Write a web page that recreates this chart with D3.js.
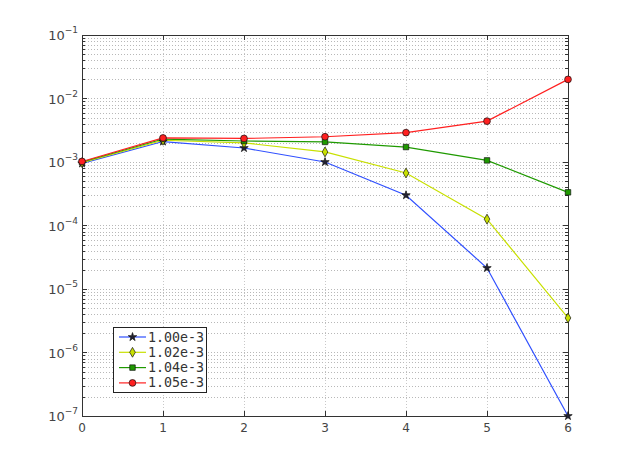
<!DOCTYPE html>
<html><head><meta charset="utf-8">
<script src="https://cdn.jsdelivr.net/npm/d3@7"></script>
<style>body{margin:0;background:#fff}svg{display:block}</style>
</head><body>
<svg id="c" width="627" height="469"></svg>
<script>
const xValues = [0,1,2,3,4,5,6];
const seriesNames = ["1.00e-3","1.02e-3","1.04e-3","1.05e-3"];
const s100 = [9.5e-4, 2.1e-3, 1.66e-3, 1.0e-3, 3.0e-4, 2.14e-5, 1.0e-7];
const s102 = [9.8e-4, 2.2e-3, 2.0e-3, 1.44e-3, 6.7e-4, 1.26e-4, 3.5e-6];
const s104 = [1.0e-3, 2.3e-3, 2.14e-3, 2.07e-3, 1.72e-3, 1.06e-3, 3.33e-4];
const s105 = [1.02e-3, 2.39e-3, 2.35e-3, 2.5e-3, 2.9e-3, 4.4e-3, 2.0e-2];
const colors = ["#3050ff","#c8e000","#1f9a00","#ff2020"];
const markers = ["star","diamond","square","circle"];
const xTicks = [0,1,2,3,4,5,6];
const yExps = [-7,-6,-5,-4,-3,-2,-1];

const svg = d3.select("#c");
const L=82, R=568, T=35, B=416;
const x = d3.scaleLinear().domain([0,6]).range([L,R]);
const y = d3.scaleLog().domain([1e-7,1e-1]).range([B,T]);

// grid
const g = svg.append("g");
const minor = [];
for (let e=-7;e<-1;e++) for (let m=1;m<10;m++) minor.push(m*Math.pow(10,e));
minor.push(1e-1);
g.selectAll(".hg").data(minor).enter().append("line")
 .attr("x1",L).attr("x2",R).attr("y1",d=>Math.round(y(d))+0.5).attr("y2",d=>Math.round(y(d))+0.5)
 .attr("stroke","#b8b8b8").attr("stroke-dasharray","1,2").attr("stroke-width",1);
g.selectAll(".vg").data(xTicks).enter().append("line")
 .attr("y1",T).attr("y2",B).attr("x1",d=>Math.round(x(d))+0.5).attr("x2",d=>Math.round(x(d))+0.5)
 .attr("stroke","#c8c8c8").attr("stroke-dasharray","1,2").attr("stroke-width",1);

// ticks
const tk = svg.append("g").attr("stroke","#333");
minor.forEach(v=>{
  const isMaj = Math.abs(Math.log10(v)-Math.round(Math.log10(v)))<1e-9;
  const len = isMaj?5:3; const yy=Math.round(y(v))+0.5;
  tk.append("line").attr("x1",L).attr("x2",L+len).attr("y1",yy).attr("y2",yy);
  tk.append("line").attr("x1",R-len).attr("x2",R).attr("y1",yy).attr("y2",yy);
});
xTicks.forEach(v=>{
  const xx=Math.round(x(v))+0.5;
  tk.append("line").attr("x1",xx).attr("x2",xx).attr("y1",B-5).attr("y2",B);
  tk.append("line").attr("x1",xx).attr("x2",xx).attr("y1",T).attr("y2",T+5);
});

// frame
svg.append("rect").attr("x",L+0.5).attr("y",T+0.5).attr("width",R-L).attr("height",B-T)
 .attr("fill","none").attr("stroke","#333").attr("stroke-width",1);

// tick labels
const lab = svg.append("g").attr("font-family","'DejaVu Sans',sans-serif").attr("fill","#444");
yExps.forEach(e=>{
  const t = lab.append("text").attr("x",L-4).attr("y",y(Math.pow(10,e))+5).attr("text-anchor","end").attr("font-size",13);
  t.append("tspan").text("10");
  t.append("tspan").attr("dy",-7).attr("font-size",9).text("\u2212"+(-e));
});
xTicks.forEach(v=>{
  lab.append("text").attr("x",x(v)).attr("y",B+16).attr("text-anchor","middle").attr("font-size",12).text(v);
});

// series
const all = [s100,s102,s104,s105];
const line = d3.line().x((d,i)=>x(xValues[i])).y(d=>y(d));
function marker(sel, type, col, cx, cy){
  let sym;
  if(type==="star") sym=d3.symbol().type(d3.symbolStar).size(22);
  if(type==="diamond") sym=d3.symbol().type(d3.symbolDiamond).size(28);
  if(type==="square") sym=d3.symbol().type(d3.symbolSquare).size(30);
  if(type==="circle") sym=d3.symbol().type(d3.symbolCircle).size(36);
  const fill = type==="star" ? "#223" : col;
  sel.append("path").attr("d",sym()).attr("transform",`translate(${cx},${cy})`)
   .attr("fill",fill).attr("stroke","#111").attr("stroke-width",0.7);
}
all.forEach((s,k)=>{
  svg.append("path").datum(s).attr("d",line).attr("fill","none").attr("stroke",colors[k]).attr("stroke-width",1.2);
});
all.forEach((s,k)=>{
  const gg = svg.append("g");
  s.forEach((v,i)=>marker(gg,markers[k],colors[k],x(xValues[i]),y(v)));
});

// legend
const lg = svg.append("g");
lg.append("rect").attr("x",113.5).attr("y",327.5).attr("width",93).attr("height",65).attr("fill","#fff").attr("stroke","#222");
seriesNames.forEach((n,k)=>{
  const yy = 337 + k*15.3;
  lg.append("line").attr("x1",119).attr("x2",146).attr("y1",yy).attr("y2",yy).attr("stroke",colors[k]).attr("stroke-width",1.2);
  marker(lg,markers[k],colors[k],132.5,yy);
  lg.append("text").attr("x",148).attr("y",yy+4.5).attr("font-family","'DejaVu Sans Mono',monospace").attr("font-size",13.3).attr("fill","#333").text(n);
});
</script>
</body></html>
